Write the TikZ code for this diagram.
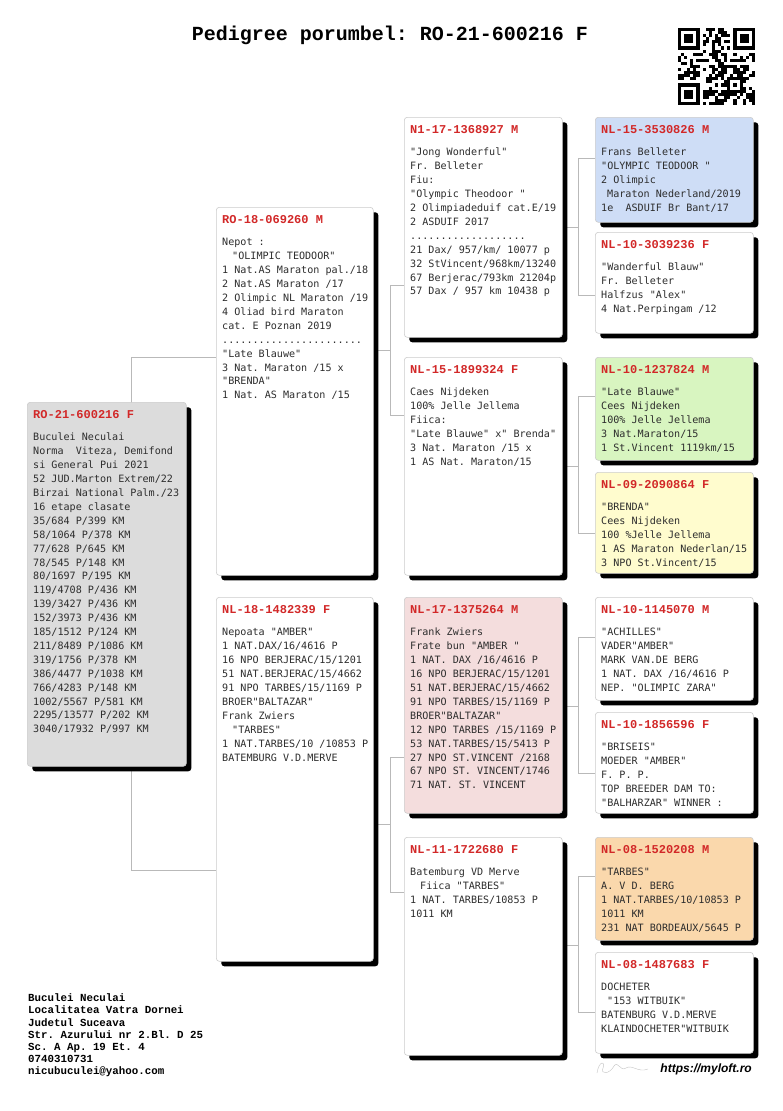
\documentclass[tikz,border=0pt]{standalone}
\usepackage{fontspec}
\newfontfamily\boxfont{DejaVu Sans Mono}
\newfontfamily\courfont{Liberation Mono}
\newfontfamily\webfont{Liberation Sans}
\usepackage{tikz}
\usetikzlibrary{shadows, calc, backgrounds}
\frenchspacing

\definecolor{idred}{RGB}{210,40,40}
\definecolor{bodygray}{RGB}{45,45,45}
\definecolor{rootgray}{RGB}{220,220,220}
\definecolor{pinkf}{RGB}{244,221,221}
\definecolor{bluef}{RGB}{206,221,246}
\definecolor{greenf}{RGB}{216,245,192}
\definecolor{yellowf}{RGB}{255,252,206}
\definecolor{orangef}{RGB}{250,216,172}

\begin{document}
\begin{tikzpicture}[x=1pt, y=-1pt,
  pbox/.style={rectangle, draw=gray!40, line width=0.6pt, rounded corners=3pt,
    anchor=north west, inner sep=0pt, fill=white,
    drop shadow={shadow xshift=5pt, shadow yshift=-5pt, fill=black, opacity=1}},
  idl/.style={anchor=west, inner sep=0pt, text=idred,
    font=\courfont\bfseries\fontsize{12}{14}\selectfont},
  body/.style={anchor=north west, inner sep=0pt, align=left, text=bodygray,
    font=\boxfont\fontsize{10.1}{13.9}\selectfont},
  link/.style={draw=gray!55, line width=0.8pt},
]
\useasboundingbox (0,0) rectangle (782,1111);

% Title
\node[font=\courfont\bfseries\fontsize{20}{24}\selectfont] (title) at (390,35)
  {Pedigree porumbel: RO-21-600216 F};

% Pigeon
\node[pbox, fill=rootgray, minimum width=159pt, minimum height=364pt] (root) at (27,402) {};
\node[idl] (root-id) at ($(root.north west)+(6,12.5)$) {RO-21-600216 F};
\node[body] (root-t) at ($(root.north west)+(6,29)$) {\strut Buculei Neculai\\
Norma~~Viteza, Demifond\\si General Pui 2021\\52 JUD.Marton Extrem/22\\
Birzai National Palm./23\\16 etape clasate\\35/684 P/399 KM\\58/1064 P/378 KM\\
77/628 P/645 KM\\78/545 P/148 KM\\80/1697 P/195 KM\\119/4708 P/436 KM\\
139/3427 P/436 KM\\152/3973 P/436 KM\\185/1512 P/124 KM\\211/8489 P/1086 KM\\
319/1756 P/378 KM\\386/4477 P/1038 KM\\766/4283 P/148 KM\\1002/5567 P/581 KM\\
2295/13577 P/202 KM\\3040/17932 P/997 KM};

% Parents
\node[pbox, minimum width=157pt, minimum height=368pt] (sire) at (216,207) {};
\node[idl] (sire-id) at ($(sire.north west)+(6,12.5)$) {RO-18-069260 M};
\node[body] (sire-t) at ($(sire.north west)+(6,29)$) {\strut Nepot :\\
\hspace*{10pt}"OLIMPIC TEODOOR"\\1 Nat.AS Maraton pal./18\\2 Nat.AS Maraton /17\\
2 Olimpic NL Maraton /19\\4 Oliad bird Maraton\\cat. E Poznan 2019\\
.......................\\"Late Blauwe"\\3 Nat. Maraton /15 x\\"BRENDA"\\
1 Nat. AS Maraton /15};

\node[pbox, minimum width=157pt, minimum height=364pt] (dam) at (216,597) {};
\node[idl] (dam-id) at ($(dam.north west)+(6,12.5)$) {NL-18-1482339 F};
\node[body] (dam-t) at ($(dam.north west)+(6,29)$) {\strut Nepoata "AMBER"\\
1 NAT.DAX/16/4616 P\\16 NPO BERJERAC/15/1201\\51 NAT.BERJERAC/15/4662\\
91 NPO TARBES/15/1169 P\\BROER"BALTAZAR"\\Frank Zwiers\\\hspace*{10pt}"TARBES"\\
1 NAT.TARBES/10 /10853 P\\BATEMBURG V.D.MERVE};

% Grandparents
\node[pbox, minimum width=158pt, minimum height=220pt] (ss) at (404,117) {};
\node[idl] (ss-id) at ($(ss.north west)+(6,12.5)$) {N1-17-1368927 M};
\node[body] (ss-t) at ($(ss.north west)+(6,29)$) {\strut "Jong Wonderful"\\
Fr. Belleter\\Fiu:\\"Olympic Theodoor "\\2 Olimpiadeduif cat.E/19\\2 ASDUIF 2017\\
...................\\21 Dax/ 957/km/ 10077 p\\32 StVincent/968km/13240\\
67 Berjerac/793km 21204p\\57 Dax / 957 km 10438 p};

\node[pbox, minimum width=158pt, minimum height=218pt] (sd) at (404,357) {};
\node[idl] (sd-id) at ($(sd.north west)+(6,12.5)$) {NL-15-1899324 F};
\node[body] (sd-t) at ($(sd.north west)+(6,29)$) {\strut Caes Nijdeken\\
100\% Jelle Jellema\\Fiica:\\"Late Blauwe" x" Brenda"\\3 Nat. Maraton /15 x\\
1 AS Nat. Maraton/15};

\node[pbox, fill=pinkf, minimum width=158pt, minimum height=216pt] (ds) at (404,597) {};
\node[idl] (ds-id) at ($(ds.north west)+(6,12.5)$) {NL-17-1375264 M};
\node[body] (ds-t) at ($(ds.north west)+(6,29)$) {\strut Frank Zwiers\\
Frate bun "AMBER "\\1 NAT. DAX /16/4616 P\\16 NPO BERJERAC/15/1201\\
51 NAT.BERJERAC/15/4662\\91 NPO TARBES/15/1169 P\\BROER"BALTAZAR"\\
12 NPO TARBES /15/1169 P\\53 NAT.TARBES/15/5413 P\\27 NPO ST.VINCENT /2168\\
67 NPO ST. VINCENT/1746\\71 NAT. ST. VINCENT};

\node[pbox, minimum width=158pt, minimum height=218pt] (dd) at (404,837) {};
\node[idl] (dd-id) at ($(dd.north west)+(6,12.5)$) {NL-11-1722680 F};
\node[body] (dd-t) at ($(dd.north west)+(6,29)$) {\strut Batemburg VD Merve\\
\hspace*{10pt}Fiica "TARBES"\\1 NAT. TARBES/10853 P\\1011 KM};

% Great-grandparents
\node[pbox, fill=bluef, minimum width=158pt, minimum height=105pt] (sss) at (595,117) {};
\node[idl] (sss-id) at ($(sss.north west)+(6,12.5)$) {NL-15-3530826 M};
\node[body] (sss-t) at ($(sss.north west)+(6,29)$) {\strut Frans Belleter\\
"OLYMPIC TEODOOR "\\2 Olimpic\\\hspace*{6pt}Maraton Nederland/2019\\1e~~ASDUIF Br Bant/17};

\node[pbox, minimum width=158pt, minimum height=101pt] (ssd) at (595,232) {};
\node[idl] (ssd-id) at ($(ssd.north west)+(6,12.5)$) {NL-10-3039236 F};
\node[body] (ssd-t) at ($(ssd.north west)+(6,29)$) {\strut "Wanderful Blauw"\\
Fr. Belleter\\Halfzus "Alex"\\4 Nat.Perpingam /12};

\node[pbox, fill=greenf, minimum width=158pt, minimum height=103pt] (sds) at (595,357) {};
\node[idl] (sds-id) at ($(sds.north west)+(6,12.5)$) {NL-10-1237824 M};
\node[body] (sds-t) at ($(sds.north west)+(6,29)$) {\strut "Late Blauwe"\\
Cees Nijdeken\\100\% Jelle Jellema\\3 Nat.Maraton/15\\1 St.Vincent 1119km/15};

\node[pbox, fill=yellowf, minimum width=158pt, minimum height=101pt] (sdd) at (595,472) {};
\node[idl] (sdd-id) at ($(sdd.north west)+(6,12.5)$) {NL-09-2090864 F};
\node[body] (sdd-t) at ($(sdd.north west)+(6,29)$) {\strut "BRENDA"\\
Cees Nijdeken\\100 \%Jelle Jellema\\1 AS Maraton Nederlan/15\\3 NPO St.Vincent/15};

\node[pbox, minimum width=158pt, minimum height=103pt] (dss) at (595,597) {};
\node[idl] (dss-id) at ($(dss.north west)+(6,12.5)$) {NL-10-1145070 M};
\node[body] (dss-t) at ($(dss.north west)+(6,29)$) {\strut "ACHILLES"\\
VADER"AMBER"\\MARK VAN.DE BERG\\1 NAT. DAX /16/4616 P\\NEP. "OLIMPIC ZARA"};

\node[pbox, minimum width=158pt, minimum height=101pt] (dsd) at (595,712) {};
\node[idl] (dsd-id) at ($(dsd.north west)+(6,12.5)$) {NL-10-1856596 F};
\node[body] (dsd-t) at ($(dsd.north west)+(6,29)$) {\strut "BRISEIS"\\
MOEDER "AMBER"\\F. P. P.\\TOP BREEDER DAM TO:\\"BALHARZAR" WINNER :};

\node[pbox, fill=orangef, minimum width=158pt, minimum height=103pt] (dds) at (595,837) {};
\node[idl] (dds-id) at ($(dds.north west)+(6,12.5)$) {NL-08-1520208 M};
\node[body] (dds-t) at ($(dds.north west)+(6,29)$) {\strut "TARBES"\\
A. V D. BERG\\1 NAT.TARBES/10/10853 P\\1011 KM\\231 NAT BORDEAUX/5645 P};

\node[pbox, minimum width=158pt, minimum height=101pt] (ddd) at (595,952) {};
\node[idl] (ddd-id) at ($(ddd.north west)+(6,12.5)$) {NL-08-1487683 F};
\node[body] (ddd-t) at ($(ddd.north west)+(6,29)$) {\strut DOCHETER\\
\hspace*{6pt}"153 WITBUIK"\\BATENBURG V.D.MERVE\\KLAINDOCHETER"WITBUIK};

% Links
\begin{scope}[on background layer]
\fill[white] (0,0) rectangle (782,1111);
\coordinate (r-a) at (131,357);
\coordinate (r-b) at (131,870);
\draw[link] (sire.west |- r-a) -- (r-a) -- (r-b) -- (dam.west |- r-b);
\foreach \pn/\jx/\oy/\ua/\ya/\ub/\yb in {sire/390/350/ss/285/sd/415,
    dam/390/824/ds/757/dd/892, ss/578/227/sss/158/ssd/295,
    sd/578/466/sds/396/sdd/533, ds/578/706/dss/637/dsd/773,
    dd/578/945/dds/876/ddd/1012}{
  \coordinate (jo) at (\jx,\oy);
  \coordinate (ja) at (\jx,\ya);
  \coordinate (jb) at (\jx,\yb);
  \draw[link] (\pn.east |- jo) -- (jo);
  \draw[link] (\ua.west |- ja) -- (ja) -- (jb) -- (\ub.west |- jb);
}
\end{scope}

% Owner
\node[anchor=north west, inner sep=0pt, align=left,
  font=\courfont\bfseries\fontsize{10.8}{12.2}\selectfont] (owner) at (28,993)
  {\strut Buculei Neculai\\Localitatea Vatra Dornei\\Judetul Suceava\\
   Str. Azurului nr 2.Bl. D 25\\Sc. A Ap. 19 Et. 4\\0740310731\\nicubuculei@yahoo.com};

% QR code
\begin{scope}[shift={(678,28)}, x=3.08pt, y=-3.08pt]
\pgfmathsetseed{17}
\foreach \i in {0,...,24}{
  \foreach \j in {0,...,24}{
    \pgfmathtruncatemacro{\fin}{((\i<8)&&(\j<8)) || ((\i>16)&&(\j<8)) || ((\i<8)&&(\j>16)) || ((\i>15)&&(\i<21)&&(\j>15)&&(\j<21)) ? 1 : 0}
    \pgfmathtruncatemacro{\on}{rnd<0.5 ? 1 : 0}
    \ifnum\fin=0 \ifnum\on=1 \fill (\i,\j) rectangle ++(1,1); \fi\fi
  }
}
\foreach \fx/\fy in {0/0, 18/0, 0/18}{
  \fill (\fx,\fy) rectangle ++(7,7);
  \fill[white] (\fx+1,\fy+1) rectangle ++(5,5);
  \fill (\fx+2,\fy+2) rectangle ++(3,3);
}
\fill (16,16) rectangle ++(5,5);
\fill[white] (17,17) rectangle ++(3,3);
\fill (18,18) rectangle ++(1,1);
\end{scope}

% Signature and site
\draw[gray!45, line width=0.4pt] (597,1073) .. controls (599,1060) and (606,1061) .. (603,1068)
  .. controls (600,1075) and (610,1074) .. (614,1066) .. controls (618,1060) and (620,1072) .. (626,1068)
  .. controls (632,1064) and (638,1073) .. (648,1069);
\node[anchor=east, inner sep=0pt, font=\webfont\bfseries\itshape\fontsize{12}{14}\selectfont]
  (site) at (752,1069) {https://myloft.ro};

\end{tikzpicture}
\end{document}
